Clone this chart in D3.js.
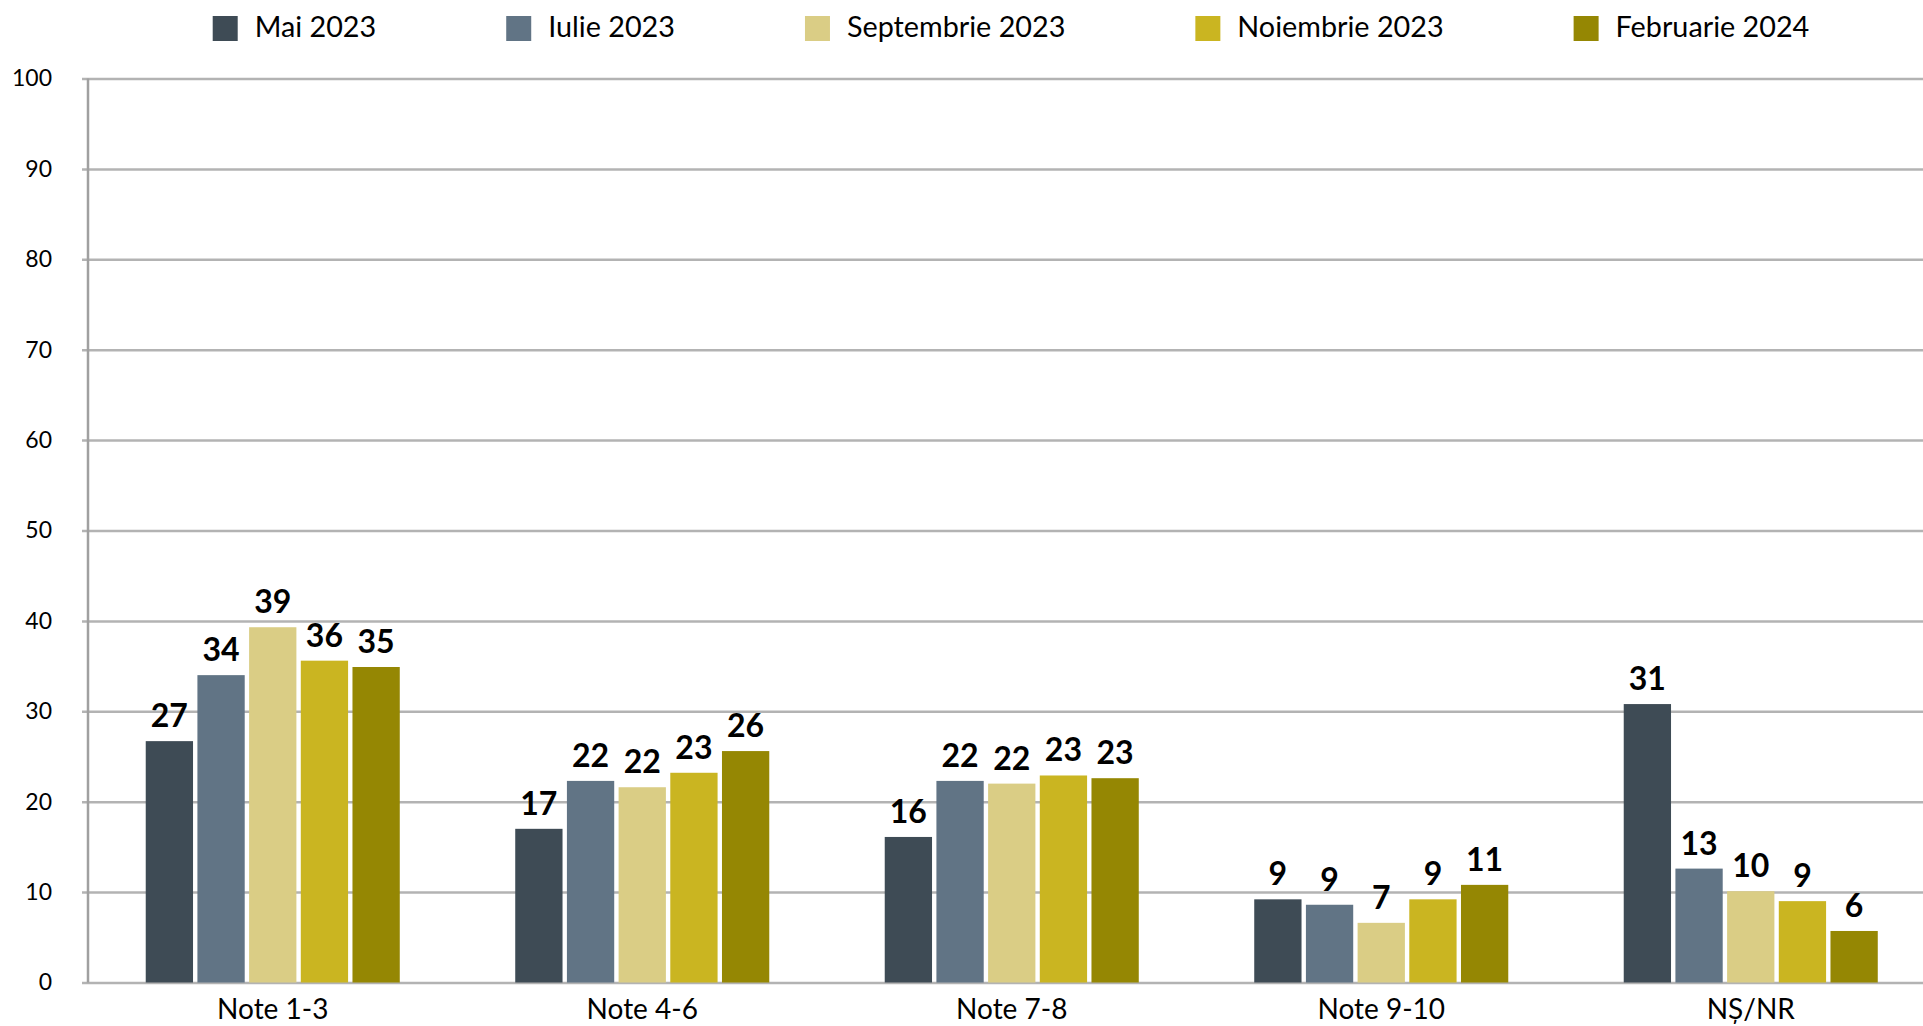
<!DOCTYPE html>
<html>
<head>
<meta charset="utf-8">
<script src="https://cdn.jsdelivr.net/npm/d3@7"></script>
<style>
  html, body { margin: 0; padding: 0; background: #ffffff; }
  svg { display: block; font-family: Lato, "Open Sans", sans-serif; }
</style>
</head>
<body>
<div id="chart"></div>
<script>
// Categories and series
const categories = ["Note 1-3", "Note 4-6", "Note 7-8", "Note 9-10", "NȘ/NR"];
const seriesNames = ["Mai 2023", "Iulie 2023", "Septembrie 2023", "Noiembrie 2023", "Februarie 2024"];
const seriesColors = ["#3e4b55", "#617485", "#dacd85", "#cab521", "#958703"];

// Values per series, same order as categories
const mai2023 = [26.7, 17.0, 16.1, 9.2, 30.8];
const iulie2023 = [34.0, 22.3, 22.3, 8.6, 12.6];
const septembrie2023 = [39.3, 21.6, 22.0, 6.6, 10.1];
const noiembrie2023 = [35.6, 23.2, 22.9, 9.2, 9.0];
const februarie2024 = [34.9, 25.6, 22.6, 10.8, 5.7];
const seriesValues = [mai2023, iulie2023, septembrie2023, noiembrie2023, februarie2024];

const yTicks = [0, 10, 20, 30, 40, 50, 60, 70, 80, 90, 100];

const width = 1923;
const height = 1026;
const margin = { left: 88, top: 78.5, bottom: 982.5 };

const svg = d3.select("#chart").append("svg")
    .attr("width", width)
    .attr("height", height);

// Scales
const x = d3.scaleBand()
    .domain(categories)
    .range([margin.left, margin.left + 5 * 369.5])
    .paddingInner(0.3125)
    .paddingOuter(0.15625);

const xInner = d3.scaleBand()
    .domain(seriesNames)
    .range([0, x.bandwidth()])
    .paddingInner(0.085);

const y = d3.scaleLinear()
    .domain([0, 100])
    .range([margin.bottom, margin.top]);

// Gridlines + y tick labels
const yAxis = svg.append("g")
    .attr("transform", `translate(${margin.left - 6},0)`)
    .call(d3.axisLeft(y).tickValues(yTicks).tickSize(-(width - margin.left + 6)).tickPadding(30));

yAxis.select(".domain").remove();
yAxis.selectAll(".tick line")
    .attr("stroke", "#b3b3b3")
    .attr("stroke-width", 2.5);
yAxis.selectAll(".tick text")
    .attr("fill", "#000")
    .attr("font-size", 23)
    .attr("font-family", "Lato, sans-serif");

// Vertical axis line
svg.append("line")
    .attr("x1", margin.left).attr("x2", margin.left)
    .attr("y1", y(100)).attr("y2", y(0))
    .attr("stroke", "#a0a0a0")
    .attr("stroke-width", 2.5);

// Bars
const groups = svg.append("g")
    .selectAll("g")
    .data(categories)
    .join("g")
    .attr("transform", d => `translate(${x(d)},0)`);

const barData = (cat, i) => seriesNames.map((s, j) => ({ series: s, value: seriesValues[j][i], color: seriesColors[j] }));

groups.selectAll("rect")
    .data((d, i) => barData(d, i))
    .join("rect")
    .attr("x", d => xInner(d.series))
    .attr("y", d => y(d.value))
    .attr("width", xInner.bandwidth())
    .attr("height", d => y(0) - y(d.value))
    .attr("fill", d => d.color);

// Value labels
groups.selectAll("text.value")
    .data((d, i) => barData(d, i))
    .join("text")
    .attr("class", "value")
    .attr("x", d => xInner(d.series) + xInner.bandwidth() / 2)
    .attr("y", d => y(d.value) - 14)
    .attr("text-anchor", "middle")
    .attr("font-size", 32)
    .attr("font-weight", "bold")
    .attr("fill", "#000")
    .text(d => d3.format(".0f")(d.value));

// Bottom axis (category labels)
const xAxis = svg.append("g")
    .attr("transform", `translate(0,${y(0)})`)
    .call(d3.axisBottom(x).tickSize(0).tickPadding(36));

xAxis.select(".domain").remove();
xAxis.selectAll(".tick text")
    .attr("fill", "#000")
    .attr("font-size", 28)
    .attr("font-family", "Lato, sans-serif")
    .attr("dy", 0);

// Legend
const legend = svg.append("g");
let cursor = 0;
seriesNames.forEach((name, i) => {
    const item = legend.append("g").attr("transform", `translate(${cursor},0)`);
    item.append("rect")
        .attr("x", 0).attr("y", 16)
        .attr("width", 25).attr("height", 25)
        .attr("fill", seriesColors[i]);
    const t = item.append("text")
        .attr("x", 42).attr("y", 37)
        .attr("font-size", 28.75)
        .attr("fill", "#000")
        .text(name);
    cursor += 42 + t.node().getComputedTextLength() + 130;
});
const legendWidth = cursor - 130;
legend.attr("transform", `translate(${1011 - legendWidth / 2},0)`);
</script>
</body>
</html>
